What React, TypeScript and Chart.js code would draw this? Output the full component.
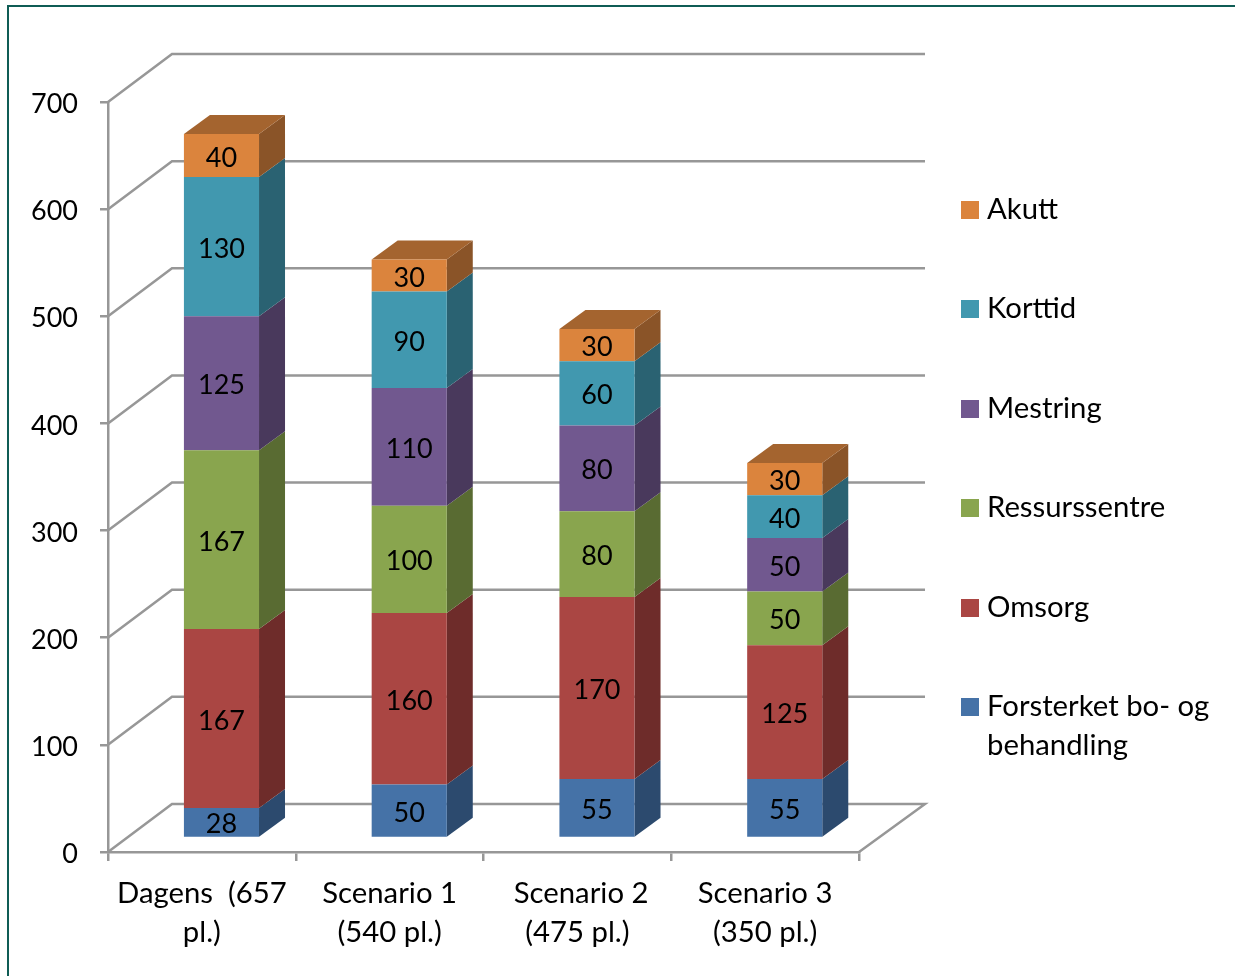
import React, { useEffect, useRef } from "react";
import { Chart, registerables } from "chart.js";

Chart.register(...registerables);

const categories = [["Dagens  (657", "pl.)"], ["Scenario 1", "(540 pl.)"], [" Scenario 2", "(475 pl.)"], ["Scenario 3", "(350 pl.)"]];
const forsterket = [28, 50, 55, 55];
const omsorg = [167, 160, 170, 125];
const ressurssentre = [167, 100, 80, 50];
const mestring = [125, 110, 80, 50];
const korttid = [130, 90, 60, 40];
const akutt = [40, 30, 30, 30];
const yTicks = [0, 100, 200, 300, 400, 500, 600, 700];
const legendLines: Record<string, string[]> = {
  "Forsterket bo- og behandling": ["Forsterket bo- og", "behandling"],
};
const seriesStyles = [
  { label: "Forsterket bo- og behandling", data: forsterket, front: "#4572A7", side: "#2C4A6E" },
  { label: "Omsorg", data: omsorg, front: "#AA4643", side: "#6E2C2A" },
  { label: "Ressurssentre", data: ressurssentre, front: "#89A54E", side: "#596B32" },
  { label: "Mestring", data: mestring, front: "#71588F", side: "#49395C" },
  { label: "Korttid", data: korttid, front: "#4198AF", side: "#2A6272" },
  { label: "Akutt", data: akutt, front: "#DB843D", side: "#8A5428", top: "#A4642F" },
];

const FONT = "Lato, Carlito, sans-serif";
const DIGIT_SIZE = 27;
const TEXT_SIZE = 29.3;
const GRID = "#979797";
const GRID_W = 2.5;
const BAR_DX = 19.6;
const BAR_DY = -14;
const BAR_DEPTH_X = 26;
const BAR_DEPTH_Y = 19;
const WALL_DX = 64;
const WALL_DY = 48;
const WALL_RIGHT_DX = 66;

const depthPlugin = {
  id: "depth",
  beforeDatasetsDraw(chart: any) {
    const { ctx, scales, chartArea } = chart;
    const y = scales.y;
    ctx.save();
    ctx.strokeStyle = GRID;
    ctx.lineWidth = GRID_W;
    yTicks.forEach((t) => {
      const py = y.getPixelForValue(t);
      ctx.beginPath();
      ctx.moveTo(chartArea.left, py);
      ctx.lineTo(chartArea.left + WALL_DX, py - WALL_DY);
      ctx.lineTo(chartArea.right + WALL_RIGHT_DX, py - WALL_DY);
      if (t === 0) ctx.lineTo(chartArea.right, py);
      ctx.stroke();
    });
    // side and top faces of every stacked bar
    chart.data.datasets.forEach((ds: any, i: number) => {
      const style = seriesStyles[i];
      chart.getDatasetMeta(i).data.forEach((el: any) => {
        const r = el.x + el.width / 2 + BAR_DX;
        const l = el.x - el.width / 2 + BAR_DX;
        const t = el.y + BAR_DY;
        const b = el.base + BAR_DY;
        ctx.fillStyle = style.side;
        ctx.beginPath();
        ctx.moveTo(r, t);
        ctx.lineTo(r + BAR_DEPTH_X, t - BAR_DEPTH_Y);
        ctx.lineTo(r + BAR_DEPTH_X, b - BAR_DEPTH_Y);
        ctx.lineTo(r, b);
        ctx.closePath();
        ctx.fill();
        if (style.top) {
          ctx.fillStyle = style.top;
          ctx.beginPath();
          ctx.moveTo(l, t);
          ctx.lineTo(l + BAR_DEPTH_X, t - BAR_DEPTH_Y);
          ctx.lineTo(r + BAR_DEPTH_X, t - BAR_DEPTH_Y);
          ctx.lineTo(r, t);
          ctx.closePath();
          ctx.fill();
        }
      });
    });
    ctx.restore();
  },
  beforeDatasetDraw(chart: any) {
    chart.ctx.save();
    chart.ctx.translate(BAR_DX, BAR_DY);
  },
  afterDatasetDraw(chart: any) {
    chart.ctx.restore();
  },
  afterDatasetsDraw(chart: any) {
    const { ctx } = chart;
    ctx.save();
    ctx.font = `${DIGIT_SIZE}px ${FONT}`;
    ctx.fillStyle = "#000";
    ctx.textAlign = "center";
    ctx.textBaseline = "middle";
    chart.data.datasets.forEach((ds: any, i: number) => {
      chart.getDatasetMeta(i).data.forEach((el: any, j: number) => {
        ctx.fillText(String(ds.data[j]), el.x + BAR_DX, (el.y + el.base) / 2 + BAR_DY + 2.3);
      });
    });
    // legend, newest series on top
    const rows = [209, 308.5, 408, 507, 607, 706.5];
    const items = [...chart.data.datasets].reverse();
    ctx.font = `${TEXT_SIZE}px ${FONT}`;
    ctx.textAlign = "left";
    items.forEach((ds: any, i: number) => {
      const yc = rows[i];
      ctx.fillStyle = ds.backgroundColor;
      ctx.fillRect(961, Math.round(yc - 8.5), 18, 18);
      ctx.fillStyle = "#000";
      (legendLines[ds.label] || [ds.label]).forEach((line: string, k: number) => {
        ctx.fillText(line, 987, yc + 0.5 + k * 39);
      });
    });
    ctx.restore();
  },
};

export default function App() {
  const ref = useRef<HTMLCanvasElement>(null);
  useEffect(() => {
    const chart = new Chart(ref.current as HTMLCanvasElement, {
      type: "bar",
      data: {
        labels: categories as any,
        datasets: seriesStyles.map((s) => ({
          label: s.label,
          data: s.data,
          backgroundColor: s.front,
          barPercentage: 0.4,
          categoryPercentage: 1,
        })),
      },
      plugins: [depthPlugin],
      options: {
        responsive: false,
        animation: false,
        layout: { padding: { left: 0, right: 376, top: 102, bottom: 0 } },
        plugins: { legend: { display: false }, tooltip: { enabled: false } },
        scales: {
          x: {
            stacked: true,
            afterFit(scale: any) { scale.height = 124; },
            grid: { drawOnChartArea: false, color: GRID, lineWidth: GRID_W, tickLength: 9 },
            border: { color: GRID, width: GRID_W },
            ticks: { color: "#000", font: { family: FONT, size: TEXT_SIZE, lineHeight: 1.33 }, padding: 13, maxRotation: 0, autoSkip: false },
          },
          y: {
            stacked: true,
            min: 0,
            max: 700,
            afterFit(scale: any) { scale.width = 108; },
            grid: { drawOnChartArea: false, color: GRID, lineWidth: GRID_W, tickLength: 8 },
            border: { color: GRID, width: GRID_W },
            ticks: { color: "#000", stepSize: 100, font: { family: FONT, size: DIGIT_SIZE }, padding: 22, labelOffset: 2.5 },
          },
        },
      },
    } as any);
    return () => chart.destroy();
  }, []);
  return (
    <div style={{ position: "fixed", inset: 0, background: "#fff", overflow: "hidden" }}>
      <canvas ref={ref} width={1235} height={976} style={{ position: "absolute", left: 0, top: 0, display: "block" }} />
      <div style={{ position: "absolute", left: 7, top: 5, right: -5, bottom: -5, borderLeft: "2px solid #0F5C55", borderTop: "2px solid #0F5C55", pointerEvents: "none" }} />
    </div>
  );
}
